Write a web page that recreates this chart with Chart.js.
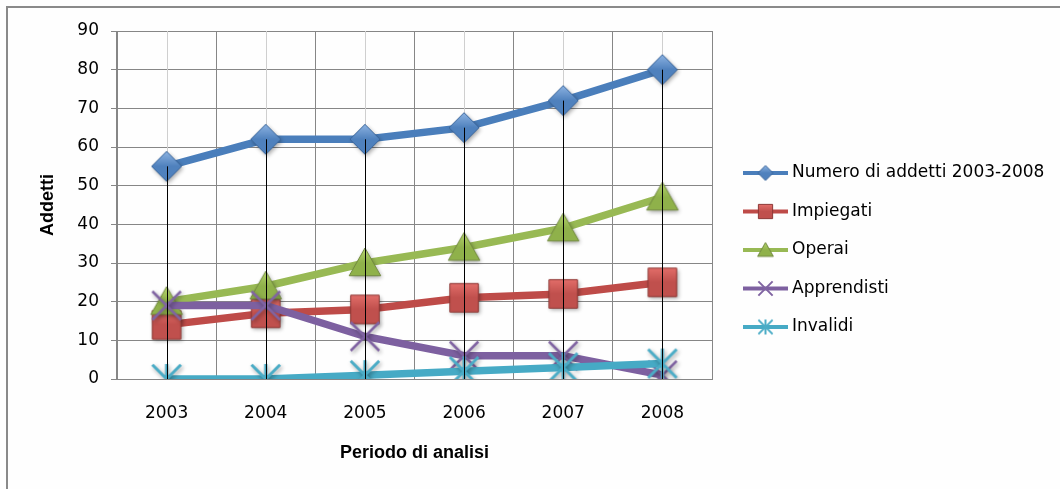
<!DOCTYPE html>
<html>
<head>
<meta charset="utf-8">
<script src="https://cdn.jsdelivr.net/npm/chart.js@4.4.1/dist/chart.umd.min.js"></script>
<style>
  html, body { margin: 0; padding: 0; background: #fefefe; }
  #grafico { display: block; }
</style>
</head>
<body>
<canvas id="grafico" width="1060" height="489"></canvas>
<script>
// dati
const anni = ['2003', '2004', '2005', '2006', '2007', '2008'];
const numeroAddetti = [55, 62, 62, 65, 72, 80];
const impiegati = [14, 17, 18, 21, 22, 25];
const operai = [20, 24, 30, 34, 39, 47];
const apprendisti = [19, 19, 11, 6, 6, 1];
const invalidi = [0, 0, 1, 2, 3, 4];
const nomiSerie = ['Numero di addetti 2003-2008', 'Impiegati', 'Operai', 'Apprendisti', 'Invalidi'];
const valoriAsseY = [0, 10, 20, 30, 40, 50, 60, 70, 80, 90];

const coloriLinea = ['#4a7ebb', '#be4b48', '#98b954', '#7d60a0', '#46aac5'];

// marcatori stile excel, disegnati su canvas
function marcatore(tipo, s, conOmbra) {
  const m = 8;
  const dim = Math.ceil(s * 2 + m * 2);
  const cv = document.createElement('canvas');
  cv.width = dim; cv.height = dim;
  const c = cv.getContext('2d');
  const cx = dim / 2, cy = dim / 2;
  if (conOmbra) {
    c.shadowColor = 'rgba(0,0,0,0.35)';
    c.shadowBlur = 4;
    c.shadowOffsetX = 1.5;
    c.shadowOffsetY = 2;
  }
  function riempi(chiaro, scuro, bordo) {
    const g = c.createLinearGradient(0, cy - s, 0, cy + s);
    g.addColorStop(0, chiaro);
    g.addColorStop(0.5, scuro);
    g.addColorStop(1, scuro);
    c.fillStyle = g;
    c.fill();
    c.shadowColor = 'transparent';
    c.strokeStyle = bordo;
    c.lineWidth = 1;
    c.stroke();
  }
  c.beginPath();
  if (tipo === 'rombo') {
    c.moveTo(cx, cy - s); c.lineTo(cx + s, cy); c.lineTo(cx, cy + s); c.lineTo(cx - s, cy); c.closePath();
    riempi('#8db3e2', '#4f81bd', '#3a659a');
  } else if (tipo === 'quadrato') {
    const h = s * 0.95;
    c.rect(cx - h, cy - h, h * 2, h * 2);
    riempi('#e46f6b', '#c0504d', '#8c3836');
  } else if (tipo === 'triangolo') {
    c.moveTo(cx, cy - s); c.lineTo(cx + s * 1.05, cy + s * 0.85); c.lineTo(cx - s * 1.05, cy + s * 0.85); c.closePath();
    riempi('#b6d46e', '#8fb14a', '#71893f');
  } else if (tipo === 'croce') {
    const h = s * 0.95;
    c.moveTo(cx - h, cy - h); c.lineTo(cx + h, cy + h);
    c.moveTo(cx + h, cy - h); c.lineTo(cx - h, cy + h);
    c.strokeStyle = '#8064a2';
    c.lineWidth = s > 10 ? 2.5 : 2;
    c.stroke();
  } else {
    const h = s * 0.95;
    c.moveTo(cx - h, cy - h); c.lineTo(cx + h, cy + h);
    c.moveTo(cx + h, cy - h); c.lineTo(cx - h, cy + h);
    c.moveTo(cx, cy - s); c.lineTo(cx, cy + s);
    c.strokeStyle = '#4bacc6';
    c.lineWidth = s > 10 ? 3 : 2;
    c.stroke();
  }
  return cv;
}

const tipiMarcatore = ['rombo', 'quadrato', 'triangolo', 'croce', 'stella'];
const marcatoriGrandi = tipiMarcatore.map(t => marcatore(t, 15, true));
const marcatoriLegenda = tipiMarcatore.map(t => marcatore(t, 7.5, false));

const serie = [numeroAddetti, impiegati, operai, apprendisti, invalidi];

const datasets = serie.map((valori, i) => ({
  label: nomiSerie[i],
  data: valori,
  borderColor: coloriLinea[i],
  backgroundColor: coloriLinea[i],
  borderWidth: 7.5,
  tension: 0,
  pointStyle: marcatoriGrandi[i],
  pointRadius: 15,
  pointHoverRadius: 15,
  order: 5 - i
}));

const fonte = 'DejaVu Sans';

// bordo esterno, griglia leggera al centro delle categorie, linee di proiezione, legenda
const pluginExtra = {
  id: 'extra',
  beforeDraw(chart) {
    const ctx = chart.ctx;
    ctx.save();
    ctx.fillStyle = '#fefefe';
    ctx.fillRect(0, 0, chart.width, chart.height);
    ctx.strokeStyle = '#8a8a8a';
    ctx.lineWidth = 2;
    ctx.beginPath();
    ctx.moveTo(7, chart.height);
    ctx.lineTo(7, 7);
    ctx.lineTo(chart.width, 7);
    ctx.stroke();
    ctx.restore();
  },
  beforeDatasetsDraw(chart) {
    const ctx = chart.ctx, xs = chart.scales.x, area = chart.chartArea;
    ctx.save();
    ctx.strokeStyle = '#cfcfcf';
    ctx.lineWidth = 1;
    anni.forEach((a, i) => {
      const px = Math.round(xs.getPixelForValue(i)) + 0.5;
      ctx.beginPath();
      ctx.moveTo(px, area.top);
      ctx.lineTo(px, area.bottom);
      ctx.stroke();
    });
    ctx.restore();
  },
  afterDatasetsDraw(chart) {
    const ctx = chart.ctx, xs = chart.scales.x, ys = chart.scales.y;
    ctx.save();
    ctx.strokeStyle = '#000';
    ctx.lineWidth = 1;
    anni.forEach((a, i) => {
      const massimo = Math.max(...serie.map(v => v[i]));
      const px = Math.round(xs.getPixelForValue(i)) + 0.5;
      ctx.beginPath();
      ctx.moveTo(px, ys.getPixelForValue(massimo));
      ctx.lineTo(px, ys.getPixelForValue(0));
      ctx.stroke();
    });
    ctx.restore();
  },
  afterDraw(chart) {
    const ctx = chart.ctx;
    const x0 = 743, y0 = 173, passo = 38.5;
    ctx.save();
    ctx.font = '17px "' + fonte + '"';
    ctx.textBaseline = 'middle';
    ctx.fillStyle = '#000';
    nomiSerie.forEach((nome, i) => {
      const y = y0 + i * passo;
      ctx.strokeStyle = coloriLinea[i];
      ctx.lineWidth = 4;
      ctx.beginPath();
      ctx.moveTo(x0, y);
      ctx.lineTo(x0 + 45, y);
      ctx.stroke();
      const mk = marcatoriLegenda[i];
      ctx.drawImage(mk, x0 + 22.5 - mk.width / 2, y - mk.height / 2);
      ctx.fillText(nome, x0 + 49, y);
    });
    ctx.restore();
  }
};

new Chart(document.getElementById('grafico'), {
  type: 'line',
  data: { labels: anni, datasets: datasets },
  plugins: [pluginExtra],
  options: {
    responsive: false,
    animation: false,
    events: [],
    layout: { padding: { left: 0, top: 31, right: 348, bottom: 0 } },
    plugins: {
      legend: { display: false },
      tooltip: { enabled: false }
    },
    scales: {
      x: {
        offset: true,
        grid: { offset: true, color: '#868686', drawTicks: false },
        border: { color: '#868686' },
        ticks: { color: '#000', padding: 24, font: { family: fonte, size: 17 } },
        title: {
          display: true, text: 'Periodo di analisi', color: '#000',
          font: { family: 'Liberation Sans', size: 18, weight: 'bold' },
          padding: { top: 0, bottom: 25 }
        },
        afterFit(scale) { scale.height = 110; }
      },
      y: {
        min: 0, max: 90,
        afterBuildTicks(scale) { scale.ticks = valoriAsseY.map(v => ({ value: v })); },
        grid: { color: '#868686', tickLength: 6 },
        border: { color: '#868686' },
        ticks: { color: '#000', padding: 12, font: { family: fonte, size: 17 } },
        title: {
          display: true, text: 'Addetti', color: '#000',
          font: { family: 'Liberation Sans', size: 18, weight: 'bold' },
          padding: { top: 37, bottom: 0 }
        },
        afterFit(scale) { scale.width = 117; }
      }
    }
  }
});
</script>
</body>
</html>
